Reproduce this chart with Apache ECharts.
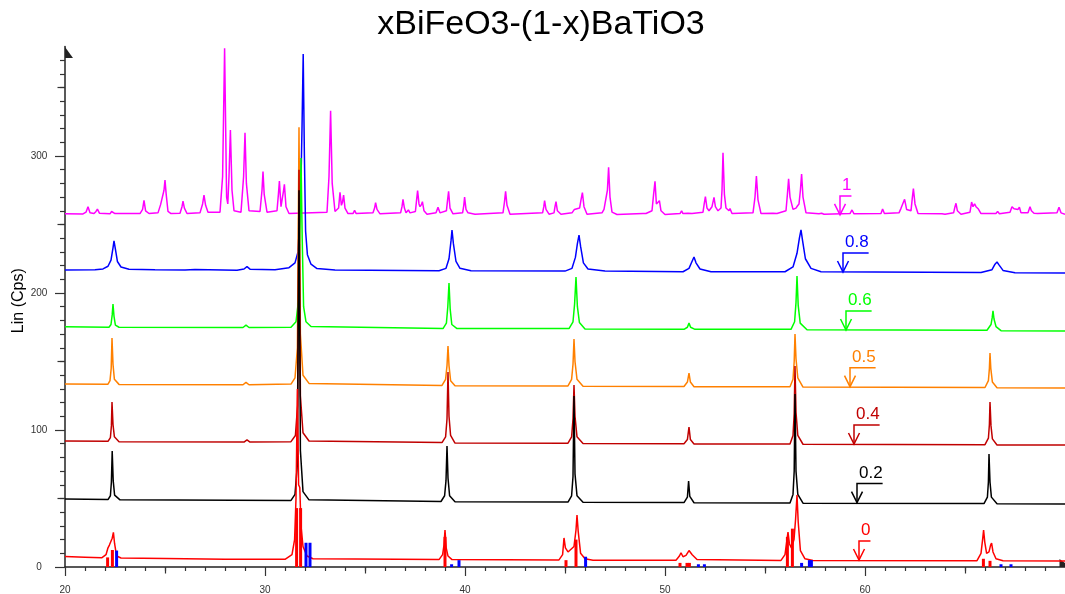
<!DOCTYPE html>
<html>
<head>
<meta charset="utf-8">
<title>xBiFeO3-(1-x)BaTiO3</title>
<script src="https://cdn.jsdelivr.net/npm/echarts@6/dist/echarts.min.js"></script>
<style>
  html, body { margin: 0; padding: 0; background: #ffffff; }
  #chart { width: 1065px; height: 594px; }
</style>
</head>
<body>
<div id="chart"></div>
<script>
// ---- text and tick values ----
const chartTitle = 'xBiFeO3-(1-x)BaTiO3';
const yAxisName = 'Lin (Cps)';
const xMajorTicks = [20, 30, 40, 50, 60];
const xMidTicks = [25, 35, 45, 55, 65];
const yMajorTicks = [0, 100, 200, 300];
const yMidTicks = [50, 150, 250, 350];

// composition x of each diffraction pattern
const compositions = ['1', '0.8', '0.6', '0.5', '0.4', '0.2', '0'];

// ---- diffraction patterns: [2theta, counts] ----
const xrd_x100 = [
  [20.0,257.8],[20.9,257.7],[21.05,259],[21.15,263],[21.25,258.5],[21.45,258],[21.55,259.5],[21.62,261.2],[21.72,258.3],
  [22.25,257.8],[22.33,259.5],[22.4,260.6],[22.5,258],[23.75,258],[23.88,261],[23.95,267.6],[24.03,260],[24.2,258],
  [24.65,258.5],[24.78,264.5],[24.85,263.5],[24.95,275],[25.0,282.5],[25.06,272],[25.15,259.5],[25.3,258],
  [25.75,258.2],[25.85,263],[25.9,267],[25.97,262],[26.1,258],[26.75,258.5],[26.88,265],[26.95,271.5],[27.03,264],[27.15,259],
  [27.75,259],[27.88,285],[27.98,378.6],[28.08,270],[28.14,265],[28.2,285],[28.27,319],[28.35,275],[28.45,260],
  [28.8,259],[28.93,285],[29.0,317],[29.07,280],[29.2,260],[29.75,259.5],[29.85,275],[29.9,288.6],[29.96,272],[30.1,259],
  [30.6,260],[30.67,272],[30.72,281.8],[30.8,263],[30.85,262],[30.92,274],[30.97,279.3],[31.05,263],[31.2,258],
  [33.1,259],[33.2,285],[33.28,333],[33.36,280],[33.5,259.5],[33.68,262],[33.75,273.5],[33.82,264],[33.87,266],[33.93,271.5],[34.0,262],[34.15,258],
  [34.4,258],[34.48,260.3],[34.56,258],[35.4,258.5],[35.48,262],[35.53,266],[35.6,261],[35.75,257.8],
  [36.78,258.5],[36.85,263],[36.9,268.4],[36.97,262],[37.05,258.5],[37.12,259.5],[37.17,260.6],[37.25,258.5],
  [37.52,259.5],[37.58,268],[37.63,274.7],[37.7,265],[37.75,263],[37.82,264.5],[37.87,266.7],[37.95,260],[38.1,257.5],
  [38.55,258.5],[38.65,262.5],[38.75,258.5],[39.07,260],[39.13,268],[39.18,274.2],[39.25,262],[39.4,257.8],
  [39.88,258.5],[39.94,264],[39.98,270],[40.05,261],[40.15,258.5],[40.5,257.5],
  [41.9,258.5],[41.97,266],[42.03,274.2],[42.1,264],[42.25,257.5],
  [43.88,258.5],[43.94,263],[43.98,267.4],[44.05,261],[44.2,257.5],[44.45,258.5],[44.5,263],[44.55,266.7],[44.62,260],[44.8,257.5],
  [45.35,258.5],[45.47,261],[45.55,260],[45.73,262],[45.8,268],[45.87,273.3],[45.95,263],[46.1,257.5],
  [46.85,258.5],[46.95,261],[47.05,262],[47.12,275],[47.18,291.7],[47.25,270],[47.35,259],[47.6,257.3],
  [48.9,258],[48.98,259.4],[49.05,258],[49.35,260],[49.43,272],[49.5,281.5],[49.57,265],[49.65,266],[49.72,267.4],[49.8,260],[50.0,257.3],
  [50.75,258],[50.83,260],[50.9,258],[51.15,258.2],[51.25,259.6],[51.35,258],
  [51.9,259],[51.96,265],[52.02,270.3],[52.1,262],[52.2,260],[52.35,263],[52.45,269.8],[52.52,263],[52.65,260],
  [52.8,262],[52.85,275],[52.9,302.4],[52.97,272],[53.05,262],[53.2,260],[53.25,261.6],[53.35,258],
  [54.4,258.5],[54.5,270],[54.57,285.4],[54.65,268],[54.8,258],[55.4,258.2],[55.5,259.2],[55.6,258],
  [56.05,260],[56.12,272],[56.18,283.4],[56.25,270],[56.4,261],[56.55,262],[56.62,263.5],[56.7,265],[56.77,275],[56.83,286.9],[56.9,270],[57.05,258.5],
  [57.7,257.8],[57.83,258.2],[57.95,257.5],[59.25,258],[59.35,260.6],[59.45,257.8],
  [60.8,258],[60.88,261.3],[60.97,258],[61.7,258.5],[61.8,261.8],[61.9,262],[61.98,268.4],[62.08,261],[62.3,260],[62.37,270],[62.42,276.2],[62.5,265],[62.65,258],
  [63.85,257.8],[63.92,258.7],[64.0,257.5],[64.43,258.5],[64.5,263],[64.55,265.5],[64.62,260],[64.8,257.5],
  [65.25,259],[65.33,266.4],[65.4,263],[65.48,265],[65.55,263],[65.67,261.3],[65.8,258],[66.55,258],[66.63,259.6],[66.72,257.8],
  [67.25,259],[67.35,263],[67.45,261.5],[67.55,262],[67.65,261],[67.72,262.6],[67.8,258.5],[68.15,258.5],[68.25,263],[68.32,260],[68.45,258.2],
  [68.63,258],[69.6,258.5],[69.7,262.6],[69.8,258.5],[70,257.5]
];

const xrd_x080 = [
  [20,216.8],[21.5,217],[21.9,217.6],[22.15,219.5],[22.3,224],[22.4,233],[22.45,238],[22.52,232],[22.62,223],[22.8,219],[23.2,217.3],
  [24.5,217],[26.0,216.8],[26.5,217.2],[28.6,216.6],[28.95,217.5],[29.1,219.3],[29.25,217.4],[30.5,217],
  [31.2,218.5],[31.5,222],[31.65,230],[31.77,260],[31.85,320],[31.91,374.5],[31.97,300],[32.03,245],[32.12,228],[32.3,221],[32.6,217.8],[33.5,216.8],
  [38.7,216.3],[39.05,218],[39.2,225],[39.3,238],[39.35,246],[39.42,236],[39.55,223],[39.75,218],[40.3,216.3],
  [45.0,216],[45.35,218],[45.52,226],[45.62,236],[45.7,242.3],[45.78,234],[45.92,222],[46.15,217.5],[47,216],
  [50.9,215.5],[51.2,218],[51.35,223],[51.45,226.3],[51.55,222],[51.75,217.5],[52.3,215.5],
  [56.0,215.5],[56.4,219],[56.6,229],[56.72,240],[56.8,246],[56.88,238],[57.02,225],[57.3,218],[57.8,215.5],
  [65.8,215],[66.35,217],[66.5,221],[66.6,222.6],[66.7,220.5],[66.9,216.5],[67.5,214.8],[70,214.6]
];

const xrd_x060 = [
  [20,175.3],[22.2,175],[22.3,177],[22.36,184],[22.4,192],[22.45,183],[22.52,176.5],[22.7,175],
  [28.9,174.8],[29.05,176.5],[29.2,174.8],
  [31.3,175],[31.55,179],[31.68,195],[31.75,250],[31.8,298.5],[31.86,240],[31.93,190],[32.05,179],[32.3,175.5],
  [38.9,174],[39.07,178],[39.14,190],[39.2,207.3],[39.26,188],[39.34,177],[39.6,174],
  [45.2,174],[45.4,179],[45.48,192],[45.55,211.7],[45.62,190],[45.72,178.5],[46.0,173.8],
  [50.95,173.5],[51.12,175],[51.2,178],[51.28,175],[51.5,173.5],
  [56.3,173.5],[56.48,179],[56.55,193],[56.6,212.4],[56.66,191],[56.76,178],[57.1,173.2],
  [66.1,172.8],[66.3,177],[66.36,182],[66.4,186.9],[66.45,181],[66.55,175.5],[66.8,172.5],[70,172.3]
];

const xrd_x050 = [
  [20,133.6],[22.15,133.4],[22.25,136],[22.31,145],[22.35,167.2],[22.4,148],[22.47,137],[22.7,133.3],
  [28.9,133],[29.05,134.8],[29.2,133],
  [31.3,133.5],[31.5,138],[31.62,160],[31.7,321],[31.77,170],[31.9,140],[32.2,134],
  [38.85,132.5],[39.03,137],[39.1,147],[39.15,161.3],[39.2,147],[39.28,136],[39.5,132.3],
  [45.15,132.2],[45.33,137],[45.4,148],[45.45,166.4],[45.5,150],[45.6,137],[45.9,132],
  [50.95,131.7],[51.12,135],[51.2,141.6],[51.27,135],[51.45,131.6],
  [56.25,131.6],[56.4,137],[56.46,150],[56.5,170],[56.55,152],[56.64,138],[56.9,131.3],
  [66.0,131],[66.17,136],[66.22,145],[66.25,156.2],[66.29,145],[66.37,135],[66.6,130.8],[70,130.7]
];

const xrd_x040 = [
  [20,92],[22.15,91.7],[22.27,94.5],[22.32,103],[22.35,120.4],[22.4,104],[22.47,95],[22.7,91.5],
  [28.95,91.2],[29.1,92.8],[29.25,91.2],
  [31.3,91.5],[31.52,96],[31.63,118],[31.7,290],[31.77,125],[31.9,98],[32.2,92],
  [38.85,90.8],[39.03,95],[39.1,108],[39.15,142.3],[39.2,110],[39.28,96],[39.5,90.5],
  [45.15,90.4],[45.33,95],[45.4,108],[45.45,132.8],[45.5,110],[45.6,95],[45.9,90.2],
  [50.95,90],[51.12,93],[51.2,102.2],[51.27,93],[51.45,89.8],
  [56.25,89.8],[56.4,96],[56.46,112],[56.5,146.7],[56.55,113],[56.64,96],[56.9,89.6],
  [66.0,89.3],[66.17,94],[66.22,104],[66.25,120.4],[66.3,103],[66.37,93.5],[66.6,89.1],[70,89]
];

const xrd_x020 = [
  [20,49.6],[22.15,49.2],[22.27,52],[22.32,62],[22.36,84.7],[22.41,63],[22.48,52.5],[22.75,49],
  [31.3,48.6],[31.5,53],[31.62,75],[31.7,275],[31.77,85],[31.9,55],[32.2,49],
  [38.8,47.8],[38.98,52],[39.05,63],[39.1,88.3],[39.15,65],[39.23,52],[39.5,47.6],
  [45.15,47.4],[45.33,52],[45.4,66],[45.45,124.8],[45.5,68],[45.6,52],[45.9,47.2],
  [50.95,47],[51.12,51],[51.18,62.8],[51.24,51.5],[51.45,46.9],
  [56.25,46.8],[56.4,53],[56.46,70],[56.5,126.3],[56.55,70],[56.64,53],[56.9,46.6],
  [65.95,46.3],[66.12,51],[66.17,62],[66.2,82.5],[66.25,62],[66.32,51],[66.6,46.1],[70,46]
];

const xrd_x000 = [
  [20,7.6],[21.0,7.2],[21.85,6.8],[22.05,9],[22.15,14],[22.22,16],[22.3,16.5],[22.36,21],[22.42,25.3],[22.48,17],[22.58,8],[22.8,6.6],
  [25,6.2],[28,5.6],[31.0,5.6],[31.35,9],[31.48,20],[31.55,50],[31.62,130],[31.68,60],[31.74,58],[31.8,30],[31.9,15],[32.1,8],[32.4,6],
  [38.7,5.4],[38.88,9],[38.95,16],[39.0,27],[39.06,14],[39.15,8],[39.35,5.4],
  [44.7,5.2],[44.88,9],[44.95,21.2],[45.02,14],[45.15,11],[45.45,15],[45.55,27],[45.6,38],[45.66,26],[45.78,10],[46.0,6],[46.4,5],
  [50.55,5],[50.72,8],[50.8,10.4],[50.9,7.5],[51.05,8.5],[51.2,12],[51.28,13],[51.36,9],[51.6,5.5],
  [55.8,4.8],[56.0,9],[56.1,20],[56.15,25.5],[56.22,17],[56.32,14],[56.45,20],[56.53,35],[56.6,52.5],[56.66,33],[56.77,12],[57.0,6],[57.4,4.8],
  [65.6,4.6],[65.8,10],[65.88,20],[65.93,27],[65.99,18],[66.08,10],[66.2,11],[66.28,16],[66.33,17.5],[66.4,11],[66.55,6],[66.9,4.5],[70,4.4]
];

const patterns = [xrd_x100, xrd_x080, xrd_x060, xrd_x050, xrd_x040, xrd_x020, xrd_x000];

// position (2theta, counts) where each composition tag points at its pattern
const tagPoints = [[58.75,257],[58.9,215.3],[59.05,173],[59.25,131.6],[59.45,89.8],[59.6,47],[59.7,5.1]];

// reference pattern lines: [2theta, relative height]
const refLinesRed = [
  [22.13,7],[22.37,12.4],[31.58,43],[31.78,43],[39.0,22],[45.05,5],[45.55,20],
  [50.75,3],[51.1,3],[51.22,3],[56.12,22],[56.37,28],[65.92,6],[66.25,4.5]
];
const refLinesBlue = [
  [22.58,12],[32.05,17.7],[32.25,17.7],[39.33,2],[39.7,5],[46.03,7.5],
  [51.67,2],[51.97,2],[56.83,3],[57.22,5],[57.32,5],[66.8,2],[67.3,2]
];

// ---- styling ----
const lineColors = ['#ff00ff', '#0000ff', '#00ff00', '#ff8000', '#c00000', '#000000', '#ff0000'];
const drawOrder = [0, 1, 3, 2, 4, 5, 6];
const FONT = '"Liberation Sans", Arial, Helvetica, sans-serif';
const AXIS_COLOR = '#222222';
const TAG_FONT = '17px ' + FONT;

const measureCtx = document.createElement('canvas').getContext('2d');
function textWidth(str, font) {
  measureCtx.font = font;
  return measureCtx.measureText(str).width;
}

const chart = echarts.init(document.getElementById('chart'), null, { renderer: 'canvas' });

const series = [];
drawOrder.forEach(function (i) {
  series.push({
    name: compositions[i],
    type: 'line',
    xAxisIndex: 0,
    yAxisIndex: 0,
    data: patterns[i],
    showSymbol: false,
    symbol: 'none',
    lineStyle: { color: lineColors[i], width: 1.5 },
    itemStyle: { color: lineColors[i] },
    silent: true,
    z: 2
  });
});

function refLineSeries(data, color) {
  return {
    type: 'custom',
    coordinateSystem: 'cartesian2d',
    xAxisIndex: 0,
    yAxisIndex: 0,
    silent: true,
    z: 3,
    data: data,
    renderItem: function (params, api) {
      const base = api.coord([api.value(0), 0]);
      const top = api.coord([api.value(0), api.value(1)]);
      return {
        type: 'rect',
        shape: { x: base[0] - 1.5, y: top[1], width: 3, height: base[1] - top[1] },
        style: { fill: color }
      };
    }
  };
}
series.push(refLineSeries(refLinesRed, '#ff0000'));
series.push(refLineSeries(refLinesBlue, '#0000ff'));

// composition tags: downward arrow onto each pattern with the x value above
series.push({
  type: 'custom',
  coordinateSystem: 'cartesian2d',
  xAxisIndex: 0,
  yAxisIndex: 0,
  silent: true,
  clip: false,
  z: 6,
  data: tagPoints.map(function (p, i) { return [p[0], p[1], i]; }),
  renderItem: function (params, api) {
    const tip = api.coord([api.value(0), api.value(1)]);
    const idx = api.value(2);
    const label = compositions[idx];
    const color = lineColors[idx];
    const w = textWidth(label, TAG_FONT) + 2;
    const barY = tip[1] - 19;
    return {
      type: 'group',
      children: [
        {
          type: 'polyline',
          shape: { points: [[tip[0] + w, barY], [tip[0], barY], [tip[0], tip[1]]] },
          style: { stroke: color, lineWidth: 1.5, fill: 'none' }
        },
        {
          type: 'polyline',
          shape: { points: [[tip[0] - 5.5, tip[1] - 11], [tip[0], tip[1]], [tip[0] + 5.5, tip[1] - 11]] },
          style: { stroke: color, lineWidth: 1.5, fill: 'none' }
        },
        {
          type: 'text',
          x: tip[0] + 2,
          y: barY - 2,
          style: { text: label, fill: color, font: TAG_FONT, align: 'left', verticalAlign: 'bottom' }
        }
      ]
    };
  }
});

const tickStyle = { color: '#333333', width: 1.2 };

const option = {
  backgroundColor: '#ffffff',
  animation: false,
  title: {
    text: chartTitle,
    left: 536,
    top: 3,
    textAlign: 'center',
    textStyle: { fontSize: 34, fontWeight: 'normal', color: '#000000', fontFamily: FONT }
  },
  grid: { left: 65, right: 0, top: 46.4, bottom: 27, containLabel: false, outerBoundsMode: 'none' },
  xAxis: [
    {
      type: 'value', min: 20, max: 70, interval: 10, position: 'bottom',
      axisLine: {
        show: true, onZero: false,
        lineStyle: { color: AXIS_COLOR, width: 1.5 },
        symbol: ['none', 'path://M8,0 L8,11 L0,11 Z M16,0'],
        symbolSize: [16, 11]
      },
      axisTick: { show: true, length: 9, customValues: xMajorTicks, lineStyle: tickStyle },
      minorTick: { show: true, splitNumber: 10, length: 4, lineStyle: tickStyle },
      axisLabel: { customValues: xMajorTicks, margin: 18, fontSize: 10, color: '#333333', fontFamily: FONT },
      splitLine: { show: false },
      minorSplitLine: { show: false }
    },
    {
      type: 'value', min: 20, max: 70, interval: 10, position: 'bottom',
      axisLine: { show: false, onZero: false },
      axisTick: { show: true, length: 6.5, customValues: xMidTicks, lineStyle: tickStyle },
      axisLabel: { show: false },
      splitLine: { show: false }
    }
  ],
  yAxis: [
    {
      type: 'value', min: 0, max: 380, interval: 100, position: 'left',
      name: yAxisName, nameLocation: 'middle', nameGap: 38, nameRotate: 90, nameMoveOverlap: false,
      nameTextStyle: { fontSize: 16, color: '#000000', fontFamily: FONT, padding: [0, 0, 0, 12] },
      axisLine: {
        show: true, onZero: false,
        lineStyle: { color: AXIS_COLOR, width: 1.5 },
        symbol: ['none', 'path://M0,0 M8,0 L8,11 L16,11 Z'],
        symbolSize: [16, 11],
        symbolOffset: [0, -6]
      },
      axisTick: { show: true, length: 10, customValues: yMajorTicks, lineStyle: tickStyle },
      minorTick: { show: true, splitNumber: 10, length: 5, lineStyle: tickStyle },
      axisLabel: { customValues: yMajorTicks, margin: 26, align: 'center', fontSize: 10, color: '#333333', fontFamily: FONT },
      splitLine: { show: false },
      minorSplitLine: { show: false }
    },
    {
      type: 'value', min: 0, max: 380, interval: 100, position: 'left',
      axisLine: { show: false, onZero: false },
      axisTick: { show: true, length: 7.5, customValues: yMidTicks, lineStyle: tickStyle },
      axisLabel: { show: false },
      splitLine: { show: false }
    }
  ],
  series: series
};

chart.setOption(option);
</script>
</body>
</html>
